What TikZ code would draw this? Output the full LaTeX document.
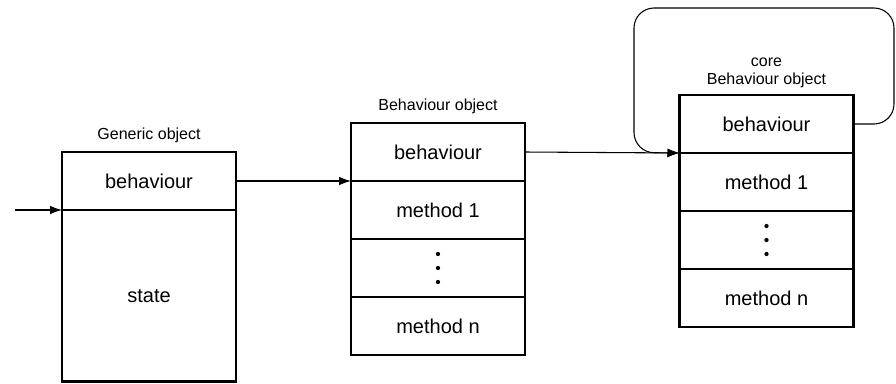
\documentclass[tikz,border=0pt]{standalone}
\usepackage{fontspec}
\setmainfont{Liberation Sans}
\usetikzlibrary{positioning,arrows.meta}

\begin{document}
\begin{tikzpicture}
  [x=0.75pt,y=0.75pt,
   cellN/.style={rectangle,draw,line width=2pt,minimum width=130.5pt,
                 minimum height=43.5pt,inner sep=0pt,outer sep=0pt,
                 font=\fontsize{15}{18}\selectfont},
   titleN/.style={align=center,inner sep=0pt,font=\fontsize{12}{13.5}\selectfont},
   link/.style={-{Latex[length=9pt,width=6.5pt]},line width=0.8pt},
   node distance=0pt]

  \useasboundingbox (0,0) rectangle (896,-383);

  % top cells of the three objects
  \path (149,-181)   node[cellN] (g1) {behaviour}
        (438,-152)   node[cellN] (b1) {behaviour}
        (766.5,-124) node[cellN] (c1) {behaviour};

  \node[cellN,minimum height=128.5pt] (g2) [below=of g1] {state};

  \node[cellN] (b2) [below=of b1] {method 1};
  \node[cellN] (b3) [below=of b2] {};
  \node[cellN] (b4) [below=of b3] {method n};

  \node[cellN] (c2) [below=of c1] {method 1};
  \node[cellN] (c3) [below=of c2] {};
  \node[cellN] (c4) [below=of c3] {method n};

  % vertical ellipsis
  \foreach \cell in {b3,c3}
    \foreach \d in {-10.5,0,10.5}
      \fill ([yshift=\d pt]\cell.center) circle (1.6pt);

  \node[titleN] (gt) [above=7pt of g1] {Generic object};
  \node[titleN] (bt) [above=7pt of b1] {Behaviour object};
  \node[titleN] (ct) [above=5pt of c1] {core\\Behaviour object};

  \coordinate (in) at (15,-210);

  \draw[link] (in) -- (g1.south west);
  \draw[link] (g1.east) -- (b1.south west);
  \draw[link] (b1.east) -- (c1.south west);
  \draw[link,rounded corners=15pt]
    (c1.east) -- (894,-124) -- (894,-8) -- (634,-8) -- (634,-152.5)
    -- (c1.south west);

\end{tikzpicture}
\end{document}
